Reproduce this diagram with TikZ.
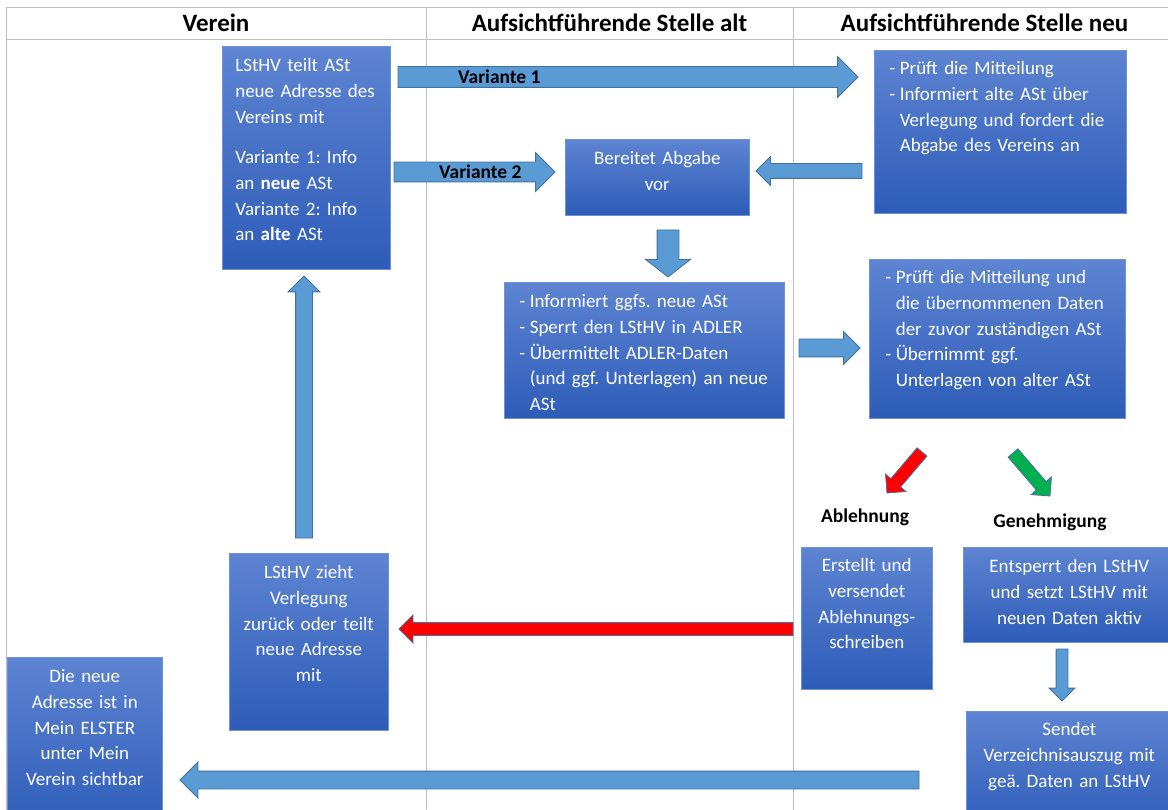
\documentclass[tikz,border=0pt]{standalone}
\usepackage{fontspec}
\setmainfont{Carlito}
\usepackage{tikz}
\usetikzlibrary{shapes, arrows.meta, positioning, calc}
\usetikzlibrary{shapes.arrows}
\usepackage{xcolor}
\frenchspacing

\definecolor{boxtop}{RGB}{94,132,210}
\definecolor{boxbot}{RGB}{45,92,184}
\definecolor{boxline}{RGB}{108,146,216}
\definecolor{arrowfill}{RGB}{91,155,213}
\definecolor{arrowline}{RGB}{65,113,156}
\definecolor{framegray}{RGB}{191,191,191}
\definecolor{okgreen}{RGB}{0,176,80}

\newcommand{\stepfont}{\fontsize{19}{25.7}\selectfont}
\newcommand{\dashitem}{\makebox[10.5pt][l]{-}}
\newcommand{\dashindent}{\hspace*{10.5pt}}
\newcommand{\blockarrow}[3][]{%
	\path let \p1=(#2), \p2=(#3), \n1={veclen(\x2-\x1,\y2-\y1)}, \n2={atan2(\y2-\y1,\x2-\x1)} in
		(\p1) node[bigarrow, #1, minimum height=\n1, rotate=\n2, anchor=tail] {};}

\tikzset{
	lane/.style={draw=framegray, line width=1pt},
	lanehead/.style={font=\bfseries\fontsize{25}{28}\selectfont, anchor=base, inner sep=0pt},
	stepbox/.style={rectangle, anchor=north west, draw=boxline, line width=0.6pt, top color=boxtop, bottom color=boxbot, text=white, inner ysep=0pt, font=\stepfont, align=left},
	bigarrow/.style={single arrow, single arrow head indent=0pt, draw=arrowline, fill=arrowfill, line width=0.8pt, inner xsep=0pt, outer sep=0pt, minimum width=0pt},
	arrowsize/.style 2 args={inner ysep=#1, single arrow head extend=#2},
	varlabel/.style={font=\bfseries\fontsize{19.5}{22}\selectfont, anchor=west, inner sep=0pt},
	decision/.style={font=\bfseries\fontsize{19.5}{22}\selectfont, inner sep=0pt}
}

\begin{document}
\begin{tikzpicture}[x=1pt, y=-1pt]
	\fill[white, use as bounding box] (0,0) rectangle (1168,810);
	% lanes
	\draw[lane] (6,8) -- (1176,8);
	\draw[lane] (6,40) -- (1176,40);
	\draw[lane] (6,8) -- (6,810);
	\draw[lane] (426,8) -- (426,810);
	\draw[lane] (793,8) -- (793,810);
	\node[lanehead] (verein) at (216,32) {Verein};
	\node[lanehead] (altstelle) at (609.5,32) {Aufsichtführende Stelle alt};
	\node[lanehead] (neustelle) at (984.5,32) {Aufsichtführende Stelle neu};

	% steps
	\node[stepbox, text width=142pt, inner xsep=13pt, text height=25.5pt, text depth=197.5pt] (mitteilung) at (222,46)
		{LStHV teilt ASt\\\mbox{neue Adresse des}\\Vereins mit\\[15pt]Variante 1: Info\\an \textbf{neue} ASt\\Variante 2: Info\\an \textbf{alte} ASt};
	\node[stepbox, align=center, text width=168pt, inner xsep=8pt, text height=25.5pt, text depth=50.5pt] (abgabe) at (565,139)
		{Bereitet Abgabe\\vor};
	\node[stepbox, text width=222pt, inner xsep=15pt, text height=24.5pt, text depth=138.5pt] (pruefung) at (874,50)
		{\dashitem Prüft die Mitteilung\\\dashitem Informiert alte ASt über\\\dashindent Verlegung und fordert die\\\dashindent Abgabe des Vereins an};
	\node[stepbox, text width=250pt, inner xsep=15pt, text height=25.5pt, text depth=110.5pt] (sperre) at (504,282)
		{\dashitem Informiert ggfs. neue ASt\\\dashitem Sperrt den LStHV in ADLER\\\dashitem Übermittelt ADLER-Daten\\\dashindent\mbox{(und ggf. Unterlagen) an neue}\\\dashindent ASt};
	\node[stepbox, text width=224pt, inner xsep=16pt, text height=24.5pt, text depth=134.5pt] (uebernahme) at (869,259)
		{\dashitem Prüft die Mitteilung und\\\dashindent die übernommenen Daten\\\dashindent der zuvor zuständigen ASt\\\dashitem Übernimmt ggf.\\\dashindent Unterlagen von alter ASt};
	\node[stepbox, align=center, text width=123pt, inner xsep=4pt, text height=24.5pt, text depth=117.5pt] (ablehnbox) at (801,547)
		{Erstellt und\\versendet\\Ablehnungs-\\schreiben};
	\node[stepbox, align=center, text width=200pt, inner xsep=6pt, text height=25.5pt, text depth=69.5pt] (entsperren) at (963,547)
		{Entsperrt den LStHV\\und setzt LStHV mit\\neuen Daten aktiv};
	\node[stepbox, align=center, text width=194pt, inner xsep=6pt, text height=24.5pt, text depth=94.5pt] (auszug) at (966,711)
		{Sendet\\Verzeichnisauszug mit\\geä. Daten an LStHV};
	\node[stepbox, align=center, text width=149pt, inner xsep=5pt, text height=25.5pt, text depth=151.5pt] (rueckzug) at (229,553)
		{LStHV zieht\\Verlegung\\zurück oder teilt\\neue Adresse\\mit};
	\node[stepbox, align=center, text width=145pt, inner xsep=5pt, text height=25.5pt, text depth=147.5pt] (sichtbar) at (7,657)
		{Die neue\\Adresse ist in\\Mein ELSTER\\unter Mein\\Verein sichtbar};

	% arrows
	\coordinate (v1s) at (398,77);
	\coordinate (v1e) at (858,77);
	\coordinate (v2s) at (394,172);
	\coordinate (v2e) at (555,172);
	\coordinate (cbs) at (862,171);
	\coordinate (cbe) at (756,171);
	\coordinate (bds) at (668,230);
	\coordinate (bde) at (668,277);
	\coordinate (des) at (799,348);
	\coordinate (dee) at (860,348);
	\coordinate (rds) at (922,452);
	\coordinate (rde) at (887,493);
	\coordinate (gds) at (1013,453);
	\coordinate (gde) at (1050,496);
	\coordinate (rhs) at (793,629);
	\coordinate (rhe) at (399,629);
	\coordinate (ghs) at (1062,649);
	\coordinate (ghe) at (1062,701);
	\coordinate (ups) at (304,538);
	\coordinate (upe) at (304,276);
	\coordinate (bts) at (919,780);
	\coordinate (bte) at (180,780);
	\blockarrow[arrowsize={10pt}{10pt}]{v1s}{v1e}
	\blockarrow[arrowsize={9.5pt}{9.5pt}]{v2s}{v2e}
	\blockarrow[arrowsize={7pt}{7pt}]{cbs}{cbe}
	\blockarrow[arrowsize={10.5pt}{11.5pt}, single arrow tip angle=104]{bds}{bde}
	\blockarrow[arrowsize={8.5pt}{7.5pt}]{des}{dee}
	\blockarrow[arrowsize={6pt}{7pt}, fill=red]{rds}{rde}
	\blockarrow[arrowsize={6pt}{7pt}, fill=okgreen]{gds}{gde}
	\blockarrow[arrowsize={6pt}{7.5pt}, fill=red]{rhs}{rhe}
	\blockarrow[arrowsize={5.5pt}{7pt}]{ghs}{ghe}
	\blockarrow[arrowsize={8pt}{7.5pt}]{ups}{upe}
	\blockarrow[arrowsize={8.5pt}{9pt}]{bts}{bte}

	% labels
	\node[varlabel, right=60pt of v1s] (v1text) {Variante 1};
	\node[varlabel, right=45pt of v2s] (v2text) {Variante 2};
	\node[decision] (ablehnung) at (865,517) {Ablehnung};
	\node[decision] (genehmigung) at (1050,522) {Genehmigung};
\end{tikzpicture}
\end{document}
